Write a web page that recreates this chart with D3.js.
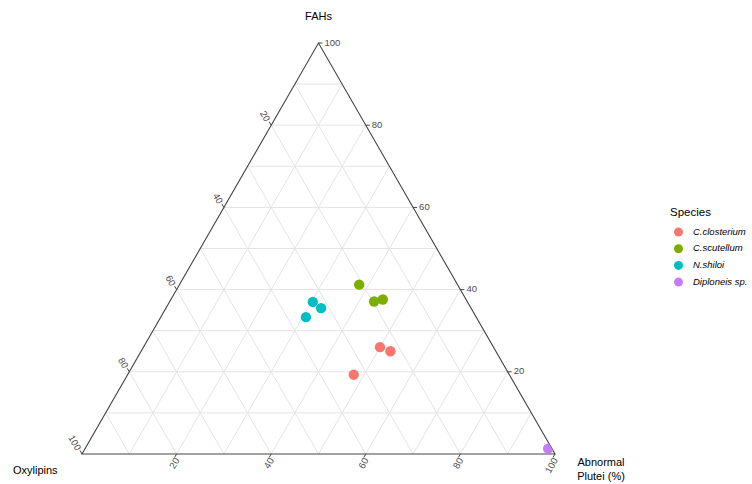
<!DOCTYPE html>
<html>
<head>
<meta charset="utf-8">
<script src="https://cdn.jsdelivr.net/npm/d3@7"></script>
<style>
    body { margin: 0; background: #fff; }
    #chart-container { width: 752px; height: 484px; }
    text { font-family: "Liberation Sans", Arial, sans-serif; }
</style>
</head>
<body>
<div id="chart-container"></div>
<script>
// series, one entry per point (percentages)
const species = ["C.scutellum", "C.scutellum", "C.scutellum",
    "N.shiloi", "N.shiloi", "N.shiloi",
    "C.closterium", "C.closterium", "C.closterium",
    "Diploneis sp."];
const oxylipins = [20.8, 19.7, 17.6, 32.7, 31.7, 36.0, 24.0, 22.3, 32.9, 0.8];
const fahs = [41.2, 37.1, 37.6, 37.0, 35.5, 33.3, 26.0, 25.0, 19.3, 1.3];
const plutei = [38.0, 43.2, 44.8, 30.3, 32.8, 30.7, 50.0, 52.7, 47.8, 97.9];

const legendOrder = ["C.closterium", "C.scutellum", "N.shiloi", "Diploneis sp."];
const legendColors = ["#F8766D", "#7CAE00", "#00BFC4", "#C77CFF"];
const tickValues = [20, 40, 60, 80, 100];
const gridValues = [10, 20, 30, 40, 50, 60, 70, 80, 90];

const W = 752, H = 484;
const svg = d3.select("#chart-container").append("svg")
    .attr("width", W).attr("height", H);

// base scales: horizontal along the bottom edge, vertical for the top component
const xBase = d3.scaleLinear().domain([0, 100]).range([82, 555]);
const yBase = d3.scaleLinear().domain([0, 100]).range([454, 43]);
const color = d3.scaleOrdinal().domain(legendOrder).range(legendColors);

// l = Oxylipins (left), t = FAHs (top), r = Abnormal Plutei (right)
function project(l, t, r) {
    const s = l + t + r;
    const tt = t / s * 100, rr = r / s * 100;
    return [xBase(rr + tt / 2), yBase(tt)];
}

const A = project(100, 0, 0), B = project(0, 0, 100), C = project(0, 100, 0);

svg.append("clipPath").attr("id", "tri")
    .append("path")
    .attr("d", `M${A}L${B}L${C}Z`);

// grid
const grid = svg.append("g").attr("stroke", "#e4e4e4").attr("stroke-width", 1);
gridValues.forEach(v => {
    // constant FAHs
    let p1 = project(100 - v, v, 0), p2 = project(0, v, 100 - v);
    grid.append("line").attr("x1", p1[0]).attr("y1", p1[1]).attr("x2", p2[0]).attr("y2", p2[1]);
    // constant Plutei
    p1 = project(100 - v, 0, v); p2 = project(0, 100 - v, v);
    grid.append("line").attr("x1", p1[0]).attr("y1", p1[1]).attr("x2", p2[0]).attr("y2", p2[1]);
    // constant Oxylipins
    p1 = project(v, 0, 100 - v); p2 = project(v, 100 - v, 0);
    grid.append("line").attr("x1", p1[0]).attr("y1", p1[1]).attr("x2", p2[0]).attr("y2", p2[1]);
});

// border
svg.append("path")
    .attr("d", `M${A}L${B}L${C}Z`)
    .attr("fill", "none")
    .attr("stroke", "#444")
    .attr("stroke-width", 1.1);

// ticks and labels
const axes = svg.append("g").attr("fill", "#4d4d4d").style("font-size", "9.5px");
const c60 = 0.5, s60 = Math.sqrt(3) / 2;
tickValues.forEach(v => {
    // right edge: FAHs
    let p = project(0, v, 100 - v);
    axes.append("line").attr("x1", p[0]).attr("y1", p[1]).attr("x2", p[0] + 4).attr("y2", p[1])
        .attr("stroke", "#444");
    axes.append("text").attr("x", p[0] + 6).attr("y", p[1])
        .attr("dominant-baseline", "middle").text(v);

    // bottom edge: Plutei
    p = project(100 - v, 0, v);
    axes.append("line").attr("x1", p[0]).attr("y1", p[1])
        .attr("x2", p[0] - 4 * c60).attr("y2", p[1] + 4 * s60).attr("stroke", "#444");
    axes.append("text")
        .attr("transform", `translate(${p[0] + 1},${p[1] + 5}) rotate(-60)`)
        .attr("text-anchor", "end").attr("dominant-baseline", "middle").text(v);

    // left edge: Oxylipins
    p = project(v, 100 - v, 0);
    axes.append("line").attr("x1", p[0]).attr("y1", p[1])
        .attr("x2", p[0] - 4 * c60).attr("y2", p[1] - 4 * s60).attr("stroke", "#444");
    axes.append("text")
        .attr("transform", `translate(${p[0] - 4},${p[1] - 4}) rotate(60)`)
        .attr("text-anchor", "end").attr("dominant-baseline", "middle").text(v);
});

// axis titles
const titles = svg.append("g").attr("fill", "#000").style("font-size", "11px");
titles.append("text").attr("x", C[0]).attr("y", 20).attr("text-anchor", "middle").text("FAHs");
titles.append("text").attr("x", 13).attr("y", 474).text("Oxylipins");
titles.append("text").attr("x", 601).attr("y", 466).attr("text-anchor", "middle").text("Abnormal");
titles.append("text").attr("x", 601).attr("y", 480).attr("text-anchor", "middle").text("Plutei (%)");

// points
svg.append("g").attr("clip-path", "url(#tri)")
    .selectAll("circle")
    .data(species.map((s, i) => ({ s, l: oxylipins[i], t: fahs[i], r: plutei[i] })))
    .join("circle")
    .attr("cx", d => project(d.l, d.t, d.r)[0])
    .attr("cy", d => project(d.l, d.t, d.r)[1])
    .attr("r", 5.2)
    .attr("fill", d => color(d.s));

// legend
const legend = svg.append("g").attr("transform", "translate(670,0)");
legend.append("text").attr("x", 0).attr("y", 216).style("font-size", "11.5px").text("Species");
legendOrder.forEach((s, i) => {
    const y = 232 + i * 16.7;
    legend.append("circle").attr("cx", 8.5).attr("cy", y).attr("r", 4.5).attr("fill", color(s));
    legend.append("text").attr("x", 23).attr("y", y).attr("dominant-baseline", "middle")
        .style("font-size", "9.5px").style("font-style", "italic").text(s);
});
</script>
</body>
</html>
